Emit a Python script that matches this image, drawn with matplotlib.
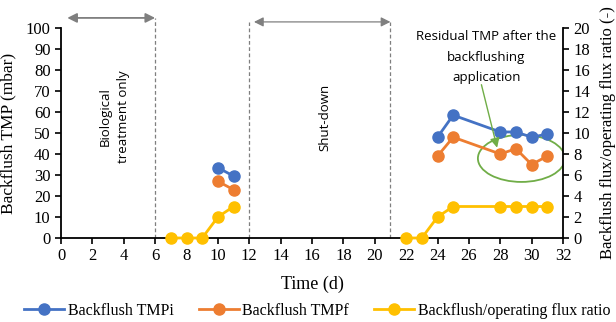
import matplotlib
matplotlib.use("Agg")
import matplotlib.pyplot as plt
from matplotlib.patches import Ellipse

days_a = [10, 11]
tmpi_a = [33.5, 29.5]
tmpf_a = [27, 23]
days_b = [24, 25, 28, 29, 30, 31]
tmpi_b = [48, 58.5, 50.5, 50.5, 48, 49.5]
tmpf_b = [39, 48, 40, 42.5, 35, 39]
days_r1 = [7, 8, 9, 10, 11]
ratio_r1 = [0, 0, 0, 2, 3]
days_r2 = [22, 23, 24, 25, 28, 29, 30, 31]
ratio_r2 = [0, 0, 2, 3, 3, 3, 3, 3]
phase_lines = [6, 12, 21]

BLUE = "#4472C4"; ORANGE = "#ED7D31"; YELLOW = "#FFC000"; GREEN = "#70AD47"
serif = "Liberation Serif"
sans = "Open Sans"

fig = plt.figure(figsize=(6.16, 3.22), dpi=100)
ax = fig.add_axes([61/616, 1-238/322, (563-61)/616, (238-28)/322])
ax2 = ax.twinx()

mk = dict(marker="o", markersize=8, linewidth=2, clip_on=False)
ax.plot(days_a, tmpi_a, color=BLUE, **mk)
ax.plot(days_a, tmpf_a, color=ORANGE, **mk)
l1, = ax.plot(days_b, tmpi_b, color=BLUE, label="Backflush TMPi", **mk)
l2, = ax.plot(days_b, tmpf_b, color=ORANGE, label="Backflush TMPf", **mk)
ax2.plot(days_r1, ratio_r1, color=YELLOW, **mk)
l3, = ax2.plot(days_r2, ratio_r2, color=YELLOW, label="Backflush/operating flux ratio", **mk)

ax.set_xlim(0, 32); ax.set_ylim(0, 100)
ax2.set_ylim(0, 20)
ax.set_xticks(range(0, 33, 2))
ax.set_yticks(range(0, 101, 10))
ax2.set_yticks(range(0, 21, 2))

for a in (ax, ax2):
    a.spines["top"].set_visible(False)
    for s in a.spines.values():
        s.set_linewidth(1.3)
    a.tick_params(labelsize=12, width=1.2, length=4)
    for t in a.get_xticklabels() + a.get_yticklabels():
        t.set_fontfamily(serif)
ax.spines["right"].set_visible(False)
ax2.spines["left"].set_visible(False)
ax2.spines["bottom"].set_visible(False)

ax.set_xlabel("Time (d)", fontfamily=serif, fontsize=13, labelpad=8)
ax.set_ylabel("Backflush TMP (mbar)", fontfamily=serif, fontsize=12.5, labelpad=7)
ax2.set_ylabel("Backflush flux/operating flux ratio (-)", fontfamily=serif, fontsize=12, labelpad=7)

# phase lines and arrows
tops = [104.8, 102.9, 102.9]
for x, t in zip(phase_lines, tops):
    ax.plot([x, x], [0, t], ls=(0, (3, 2)), color="#7f7f7f", lw=0.9, clip_on=False)
ax.annotate("", xy=(0.4, 104.8), xytext=(6, 104.8), annotation_clip=False,
            arrowprops=dict(arrowstyle="<|-|>", color="#7f7f7f", lw=1.3, mutation_scale=14,
                            shrinkA=0, shrinkB=0))
ax.annotate("", xy=(12.3, 102.9), xytext=(21, 102.9), annotation_clip=False,
            arrowprops=dict(arrowstyle="<|-|>", color="#7f7f7f", lw=0.9, mutation_scale=14,
                            shrinkA=0, shrinkB=0))

ax.text(3.4, 58, "Biological\ntreatment only", rotation=90, ha="center", va="center",
        fontfamily=sans, fontsize=9.5, linespacing=1.5)
ax.text(16.85, 57.5, "Shut-down", rotation=90, ha="center", va="center",
        fontfamily=sans, fontsize=9.5)
ax.text(27.1, 86, "Residual TMP after the\nbackflushing\napplication", ha="center", va="center",
        fontfamily=sans, fontsize=9.5, linespacing=1.75)
ax.annotate("", xy=(27.8, 43), xytext=(26.8, 73),
            arrowprops=dict(arrowstyle="-|>", color=GREEN, lw=1.0, mutation_scale=14,
                            shrinkA=0, shrinkB=0))
ax.add_patch(Ellipse((29.35, 37.9), 5.55, 22.4, fill=False, edgecolor=GREEN, lw=1.3))

fig.legend(handles=[l1, l2, l3], loc="center", bbox_to_anchor=(0.515, 1-311/322), ncol=3,
           frameon=False, prop=dict(family=serif, size=11.5), handlelength=2.5,
           handletextpad=0.2, columnspacing=1.6, borderaxespad=0)

fig.savefig("out.png", dpi=100)
